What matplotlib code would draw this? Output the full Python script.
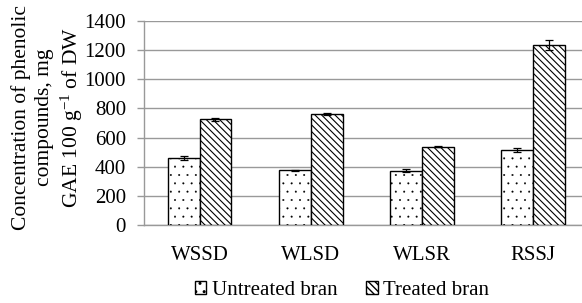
import matplotlib.pyplot as plt
import numpy as np

plt.rcParams["font.family"] = ["Liberation Serif", "DejaVu Serif"]
plt.rcParams["mathtext.fontset"] = "custom"
plt.rcParams["mathtext.rm"] = "Liberation Serif"
plt.rcParams["mathtext.it"] = "Liberation Serif:italic"

categories = ["WSSD", "WLSD", "WLSR", "RSSJ"]
untreated = [460, 375, 372, 515]
untreated_err = [15, 5, 10, 12]
treated = [725, 762, 538, 1235]
treated_err = [10, 5, 5, 35]

x = np.arange(len(categories))
width = 0.288

fig = plt.figure(figsize=(5.82, 3.03), dpi=100)
ax = fig.add_axes([0.2474, 0.2574, 0.7526, 0.6733])

err_kw = {"ecolor": "black", "elinewidth": 0.9, "capsize": 3, "capthick": 0.9}
with plt.rc_context({"hatch.linewidth": 0.2, "hatch.color": "#333333"}):
    ax.bar(x - width / 2, untreated, width, yerr=untreated_err, color="white",
           edgecolor="black", linewidth=1.0, hatch="..", label="Untreated bran",
           error_kw=err_kw, zorder=3)
with plt.rc_context({"hatch.linewidth": 0.8}):
    ax.bar(x + width / 2, treated, width, yerr=treated_err, color="white",
           edgecolor="black", linewidth=1.0, hatch="\\\\\\\\\\", label="Treated bran",
           error_kw=err_kw, zorder=3)

ax.set_xlim(-0.5, 3.445)
ax.set_ylim(0, 1400)
ax.set_yticks(range(0, 1401, 200))
ax.set_xticks(x)
ax.set_xticklabels(categories)
ax.tick_params(axis="x", length=0, pad=15, labelsize=15)
ax.tick_params(axis="y", length=5, color="#999999", width=1, labelsize=15, pad=8)
ax.grid(axis="y", color="#999999", linewidth=1, zorder=0)
ax.set_axisbelow(True)
for side in ("top", "right"):
    ax.spines[side].set_visible(False)
for side in ("left", "bottom"):
    ax.spines[side].set_color("#999999")
    ax.spines[side].set_linewidth(1)

fig.text(48 / 582, 1 - 117 / 303,
         "Concentration of phenolic\ncompounds, mg\nGAE 100 g$^{\\mathrm{-1}}$ of DW",
         rotation=90, ha="center", va="center", multialignment="center",
         fontsize=15.5, linespacing=1.28)

ax.legend(loc="center", bbox_to_anchor=((342 - 144) / 438, -0.32), ncol=2,
          frameon=False, fontsize=15, handlelength=0.55, handleheight=0.55,
          handletextpad=0.25, columnspacing=1.4)

fig.savefig("out.png", dpi=100)
